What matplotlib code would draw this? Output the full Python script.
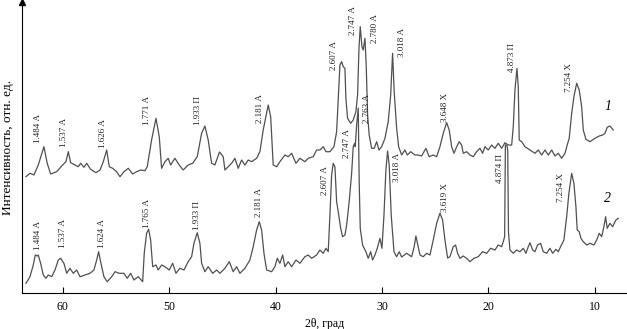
import matplotlib
matplotlib.use("Agg")
import matplotlib.pyplot as plt

plt.rcParams['font.family'] = ['Liberation Serif', 'DejaVu Serif']

# Curve 1 (upper pattern): 2theta, intensity (rel. units)
tt1 = [63.46, 63.08, 62.71, 62.30, 61.77, 61.46, 61.14, 60.57, 60.01, 59.70,
       59.48, 59.26, 58.85, 58.54, 58.32, 58.01, 57.75, 57.38, 56.88, 56.50,
       56.19, 55.87, 55.63, 55.31, 54.94, 54.62, 54.25, 53.84, 53.43, 53.06,
       52.68, 52.28, 52.06, 51.65, 51.24, 50.93, 50.71, 50.40, 50.09, 49.86,
       49.46, 49.05, 48.68, 48.21, 47.79, 47.36, 46.95, 46.64, 46.33, 46.01,
       45.70, 45.27, 44.92, 44.76, 44.45, 44.13, 43.82, 43.51, 43.19, 42.88,
       42.57, 42.25, 41.78, 41.47, 41.16, 40.69, 40.46, 40.22, 39.90, 39.59,
       39.12, 38.81, 38.49, 38.08, 37.71, 37.24, 36.93, 36.46, 36.14, 35.83,
       35.52, 35.26, 34.89, 34.51, 34.26, 34.11, 33.95, 33.79, 33.64, 33.48,
       33.39, 33.23, 32.94, 32.70, 32.45, 32.29, 32.16, 32.04, 31.88, 31.76,
       31.60, 31.48, 31.35, 31.20, 30.97, 30.73, 30.50, 30.28, 30.03, 29.72,
       29.41, 29.18, 29.00, 28.85, 28.62, 28.43, 28.15, 27.84, 27.62, 27.30,
       26.90, 26.59, 26.27, 25.87, 25.56, 25.18, 24.86, 24.55, 24.24, 23.92,
       23.68, 23.45, 23.23, 22.98, 22.74, 22.51, 22.36, 22.04, 21.73, 21.42,
       21.10, 20.79, 20.54, 20.32, 20.01, 19.69, 19.38, 19.07, 18.75, 18.44,
       18.13, 17.81, 17.66, 17.50, 17.31, 17.19, 17.10, 16.87, 16.56, 16.09,
       15.62, 15.31, 14.99, 14.68, 14.37, 14.05, 13.74, 13.43, 13.11, 12.80,
       12.59, 12.40, 12.17, 11.96, 11.70, 11.46, 11.23, 11.08, 10.83, 10.45,
       9.98, 9.58, 9.26, 9.04, 8.83, 8.57, 8.26]
int1 = [116.3, 119.7, 118, 128, 146.3, 129.7, 119, 121.3, 128, 131.3,
        141.3, 130.3, 128, 126.3, 129.7, 125.7, 129.7, 123.7, 120.3, 123,
        131.3, 143, 126.3, 124.7, 121.3, 116.3, 121.3, 124.7, 119, 121.3,
        123, 122.3, 126.3, 153, 174.7, 156.3, 124.7, 131.3, 134.7, 128,
        134.7, 128, 123, 128, 129.7, 136.3, 159.7, 167, 153, 129.7,
        128, 141, 136.3, 123, 126.3, 129.7, 134.7, 124.7, 133, 128,
        133, 131.3, 134.7, 141.3, 163, 188, 176.3, 128, 126.3, 131.3,
        138, 136.3, 139.7, 129.7, 134.7, 131.3, 134.7, 136.3, 143, 143,
        146.3, 141.3, 141.3, 146.3, 161.3, 194.7, 228, 231.3, 226.3, 224.7,
        194.7, 174.7, 169.7, 173, 181.3, 198, 244.7, 266.3, 246.3, 243,
        254.7, 228, 178, 158, 144.7, 144.7, 151.3, 143, 146.3, 154.7,
        171.3, 198, 239.7, 201.3, 164.7, 146.3, 138, 143, 138, 141.3,
        138, 138, 137, 144.7, 136.3, 138, 136.3, 146.3, 159.7, 170.3,
        163, 146.3, 139.7, 146.3, 151.3, 148, 139.7, 141.3, 138, 136.3,
        141.3, 144.7, 139.7, 146.3, 143, 148, 144.7, 149.7, 144.7, 150.3,
        148, 148, 166.3, 203, 224.7, 206.3, 153, 151.3, 146.3, 143,
        139.7, 143, 138, 143, 138, 143, 137, 139.7, 134.7, 139.7,
        148, 154.7, 179.7, 196.3, 209.7, 203, 186.3, 163, 153.7, 151.3,
        154.7, 157, 158, 159.7, 165.7, 167, 163]

# Curve 2 (lower pattern)
tt2 = [63.46, 63.08, 62.77, 62.58, 62.40, 62.30, 62.08, 61.83, 61.58, 61.36,
       61.04, 60.73, 60.42, 60.20, 59.89, 59.63, 59.32, 59.01, 58.69, 58.38,
       57.91, 57.44, 57.07, 56.81, 56.63, 56.41, 56.13, 55.82, 55.40, 55.09,
       54.69, 54.25, 53.94, 53.62, 53.31, 52.90, 52.49, 52.34, 52.12, 51.93,
       51.74, 51.55, 51.24, 51.03, 50.71, 50.40, 49.99, 49.67, 49.36, 48.99,
       48.61, 48.21, 47.89, 47.67, 47.36, 47.11, 46.95, 46.64, 46.33, 45.91,
       45.54, 45.23, 44.76, 44.35, 43.98, 43.66, 43.35, 42.88, 42.41, 42.10,
       41.78, 41.53, 41.31, 41.09, 40.84, 40.37, 40.06, 39.84, 39.59, 39.33,
       39.12, 38.81, 38.49, 38.08, 37.71, 37.24, 36.93, 36.61, 36.14, 35.83,
       35.52, 35.26, 35.05, 34.89, 34.73, 34.58, 34.42, 34.26, 34.11, 33.88,
       33.70, 33.48, 33.32, 33.08, 32.85, 32.70, 32.57, 32.51, 32.38, 32.23,
       32.14, 32.04, 31.82, 31.51, 31.29, 31.06, 30.88, 30.66, 30.44, 30.19,
       30.00, 29.81, 29.63, 29.47, 29.32, 29.13, 28.87, 28.62, 28.38, 28.15,
       27.68, 27.21, 26.97, 26.81, 26.59, 26.43, 26.12, 25.80, 25.49, 25.18,
       24.86, 24.55, 24.30, 24.08, 23.83, 23.61, 23.30, 23.08, 22.89, 22.67,
       22.36, 22.04, 21.73, 21.36, 20.95, 20.54, 20.16, 19.79, 19.38, 19.07,
       18.75, 18.60, 18.47, 18.40, 18.27, 18.18, 18.11, 17.97, 17.66, 17.34,
       17.03, 16.72, 16.47, 16.25, 16.09, 15.84, 15.62, 15.37, 15.09, 14.84,
       14.52, 14.21, 13.96, 13.65, 13.43, 13.21, 12.90, 12.64, 12.43, 12.17,
       11.96, 11.77, 11.65, 11.46, 11.30, 11.08, 10.76, 10.45, 10.08, 9.82,
       9.58, 9.35, 9.14, 8.98, 8.83, 8.57, 8.32, 8.01, 7.79]
int2 = [9.7, 16.3, 28, 38, 37, 38, 29.7, 18, 14.7, 18,
        16.3, 23, 33, 34.7, 29.7, 19.7, 24.7, 19.7, 23, 16.3,
        18, 19.7, 23, 33, 41.3, 29.7, 16.3, 11.3, 16.3, 21.3,
        19.7, 19.7, 14.7, 19.7, 13, 16.3, 11.3, 39.7, 59.7, 63.7,
        53, 26.3, 28, 23, 28, 26.3, 23, 29.7, 19.7, 24.7,
        23, 31.3, 36.3, 49.7, 60.3, 49.7, 29.7, 21.3, 26.3, 19.7,
        23, 19.7, 24.7, 31.3, 21.3, 26.3, 19.7, 24.7, 33, 46.3,
        63, 71.3, 63, 39.7, 23, 21.3, 26.3, 34.7, 29.7, 38,
        26.3, 31.3, 26.3, 33, 29.7, 36.3, 38, 34.7, 38, 43,
        39.7, 44.7, 41.3, 78, 118, 129.7, 126.3, 91.3, 81.3, 64.7,
        56.3, 58, 68, 91.3, 119.7, 146.3, 149.7, 146.3, 168, 185,
        111.3, 64.7, 48, 41.3, 34.7, 41.3, 33, 38, 44.7, 54.7,
        44.7, 78, 123, 142, 128, 78, 41.3, 36.3, 41.3, 36,
        39.7, 36.3, 46.3, 57, 46.3, 38, 36.3, 39.7, 38, 53,
        69.7, 79.7, 73, 53, 35, 36.3, 46.3, 48, 39.7, 34.7,
        37, 34.7, 31.3, 34.7, 36.3, 41.3, 39.7, 44.7, 43, 48,
        46.3, 51.3, 56.3, 148, 148, 143, 61, 43, 39.7, 43,
        41.3, 44.7, 39.7, 46.3, 50.3, 43, 41.3, 48, 49.7, 41.3,
        39.7, 44.7, 39.7, 43.7, 41.3, 46.3, 53, 76.3, 99.7, 119.7,
        109.7, 86.3, 63, 61.3, 54.7, 51.3, 48, 49.7, 48, 53,
        59.7, 56.3, 66.3, 76.3, 64.7, 69.7, 66.3, 73, 74.7]

# Peak labels: text, 2theta, intensity at label base
labels1 = ["1.484 А", "1.537 А", "1.626 А", "1.771 А", "1.933 П", "2.181 А",
           "2.607 А", "2.747 А", "2.780 А", "3.018 А", "3.648 Х", "4.873 П",
           "7.254 Х"]
lab1_tt = [62.33, 59.86, 56.19, 52.12, 47.27, 41.47, 34.51, 32.70, 30.66,
           28.09, 24.08, 17.81, 12.40]
lab1_int = [150, 146, 145, 168, 168, 170, 223, 258, 250, 236, 171, 221, 201]

labels2 = ["1.484 А", "1.537 А", "1.624 А", "1.765 А", "1.933 П", "2.181 А",
           "2.607 А", "2.747 А", "2.763 А", "3.018 А", "3.619 Х", "4.874 П",
           "7.254 Х"]
lab2_tt = [62.36, 59.95, 56.34, 52.12, 47.42, 41.53, 35.36, 33.32, 31.44,
           28.62, 24.08, 18.91, 13.18]
lab2_int = [43, 45, 45, 65, 63, 76, 98, 135, 170, 111, 81, 110, 91]

fig = plt.figure(figsize=(6.27, 3.29), dpi=100)
ax = fig.add_axes([22 / 627, 36 / 329, 605 / 627, 291 / 329])

line_color = "#505050"
ax.plot(tt1, int1, color=line_color, lw=0.9)
ax.plot(tt2, int2, color=line_color, lw=0.9)

for txt, x, y in zip(labels1, lab1_tt, lab1_int):
    ax.text(x, y, txt, rotation=90, ha="center", va="bottom", fontsize=6.5, color="#222222")
for txt, x, y in zip(labels2, lab2_tt, lab2_int):
    ax.text(x, y, txt, rotation=90, ha="center", va="bottom", fontsize=6.5, color="#222222")

ax.text(8.73, 186, "1", style="italic", fontsize=10, ha="center", va="center")
ax.text(8.83, 95, "2", style="italic", fontsize=10, ha="center", va="center")

ax.set_xlim(63.83, 6.97)
ax.set_ylim(0, 291)
ax.set_xticks([60, 50, 40, 30, 20, 10])
ax.set_yticks([])
ax.tick_params(axis="x", direction="in", length=4, labelsize=8.5, pad=6)
ax.spines["top"].set_visible(False)
ax.spines["right"].set_visible(False)
ax.plot([0], [1], marker="^", color="black", markersize=4,
        transform=ax.transAxes, clip_on=False)

ax.set_xlabel("2θ, град", fontsize=8.5, labelpad=3)
ax.set_ylabel("Интенсивность, отн. ед.", fontsize=9.5, labelpad=6)

fig.savefig("out.png", dpi=100)
